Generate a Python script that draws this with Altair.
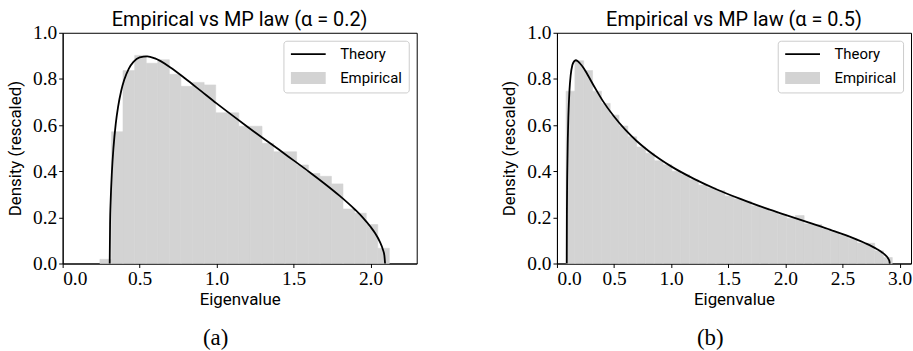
import altair as alt
import pandas as pd

# ---------------- data ----------------
LEFT_EDGES = [0.242, 0.317, 0.392, 0.468, 0.543, 0.618, 0.693, 0.768, 0.844, 0.919,
              0.994, 1.069, 1.144, 1.220, 1.295, 1.370, 1.445, 1.520, 1.596, 1.671,
              1.746, 1.821, 1.896, 1.972, 2.047, 2.122]
LEFT_HEIGHTS = [0.018, 0.571, 0.836, 0.902, 0.868, 0.883, 0.820, 0.768, 0.785, 0.774,
                0.653, 0.653, 0.595, 0.595, 0.521, 0.484, 0.484, 0.427, 0.390, 0.378,
                0.345, 0.236, 0.218, 0.169, 0.066]
LEFT_THEORY_X = [0.3056, 0.308, 0.312, 0.32, 0.33, 0.345, 0.36, 0.38, 0.40, 0.43, 0.46,
                 0.50, 0.55, 0.60, 0.70, 0.80, 0.90, 1.0, 1.1, 1.2, 1.3, 1.4, 1.5, 1.6,
                 1.7, 1.8, 1.9, 1.95, 2.0, 2.03, 2.06, 2.08, 2.09, 2.0944]
LEFT_THEORY_Y = [0.0, 0.170, 0.273, 0.398, 0.501, 0.606, 0.679, 0.748, 0.796, 0.845, 0.874,
                 0.893, 0.898, 0.889, 0.850, 0.800, 0.747, 0.694, 0.643, 0.593, 0.544,
                 0.496, 0.447, 0.398, 0.347, 0.293, 0.233, 0.199, 0.159, 0.131, 0.095,
                 0.061, 0.034, 0.0]

RIGHT_EDGES = [0.080, 0.157, 0.234, 0.312, 0.389, 0.466, 0.543, 0.620, 0.698, 0.775,
               0.852, 0.929, 1.006, 1.084, 1.161, 1.238, 1.315, 1.392, 1.470, 1.547,
               1.624, 1.701, 1.778, 1.856, 1.933, 2.010, 2.087, 2.164, 2.242, 2.319,
               2.396, 2.473, 2.550, 2.628, 2.705, 2.782, 2.859, 2.936]
RIGHT_HEIGHTS = [0.747, 0.879, 0.836, 0.747, 0.694, 0.643, 0.596, 0.549, 0.505, 0.478,
                 0.445, 0.428, 0.400, 0.385, 0.363, 0.340, 0.328, 0.316, 0.292, 0.280,
                 0.270, 0.250, 0.240, 0.225, 0.212, 0.196, 0.208, 0.172, 0.169, 0.150,
                 0.136, 0.123, 0.108, 0.089, 0.088, 0.055, 0.026]
RIGHT_THEORY_X = [0.0858, 0.087, 0.09, 0.095, 0.10, 0.11, 0.12, 0.135, 0.15, 0.165, 0.18,
                  0.20, 0.23, 0.26, 0.30, 0.35, 0.40, 0.50, 0.60, 0.70, 0.80, 0.90, 1.0,
                  1.2, 1.4, 1.6, 1.8, 2.0, 2.2, 2.4, 2.6, 2.7, 2.8, 2.85, 2.88, 2.90,
                  2.91, 2.9142]
RIGHT_THEORY_Y = [0.0, 0.214, 0.386, 0.540, 0.637, 0.754, 0.815, 0.860, 0.876, 0.881,
                  0.878, 0.868, 0.850, 0.826, 0.790, 0.747, 0.706, 0.637, 0.579, 0.530,
                  0.489, 0.453, 0.421, 0.367, 0.321, 0.281, 0.244, 0.211, 0.178, 0.145,
                  0.109, 0.088, 0.063, 0.047, 0.034, 0.022, 0.012, 0.0]

LEGEND_LABELS = ["Theory", "Empirical"]
TITLES = ["Empirical vs MP law (α = 0.2)", "Empirical vs MP law (α = 0.5)"]
CAPTIONS = ["(a)", "(b)"]
X_MAX = [2.30, 3.10]
X_TICKS = [[0.0, 0.5, 1.0, 1.5, 2.0], [0.0, 0.5, 1.0, 1.5, 2.0, 2.5, 3.0]]
Y_TICKS = [0.0, 0.2, 0.4, 0.6, 0.8, 1.0]
X_LABEL = "Eigenvalue"
Y_LABEL = "Density (rescaled)"

# ---------------- styling ----------------
SANS = "Roboto"
SERIF = "Liberation Serif"
BAR_COLOR = "#d3d3d3"
LINE_COLOR = "black"
PATH_LINE = "M-1,-0.14H4.83V0.14H-1Z"
PATH_PATCH = "M-1,-1H4.83V1H-1Z"
W, H = 356, 232

AXIS_STYLE = dict(
    grid=False, domainColor="black", domainWidth=1, tickColor="black", tickWidth=1,
    tickSize=4, labelFont=SERIF, labelFontSize=19.5, labelColor="black",
    titleFont=SANS, titleFontSize=17, titleFontWeight="normal", titleColor="black",
    format=".1f",
)


def panel(edges, heights, tx, ty, title, caption, xmax, xticks):
    hist = pd.DataFrame({"x0": edges[:-1], "x1": edges[1:], "h": heights})
    theory = pd.DataFrame({"x": tx, "y": ty})
    leg = pd.DataFrame({"series": LEGEND_LABELS, "x": [None, None], "y": [None, None]})

    xscale = alt.Scale(domain=[0, xmax], nice=False, zero=False)
    yscale = alt.Scale(domain=[0, 1], nice=False)
    xaxis = alt.Axis(values=xticks, title=X_LABEL, labelPadding=2, titlePadding=4,
                     **AXIS_STYLE)
    yaxis = alt.Axis(values=Y_TICKS, title=Y_LABEL, labelPadding=2, titlePadding=8,
                     **AXIS_STYLE)

    bars = alt.Chart(hist).mark_rect(
        color=BAR_COLOR, stroke=BAR_COLOR, strokeWidth=0.6
    ).encode(
        x=alt.X("x0:Q", scale=xscale, axis=xaxis),
        x2="x1:Q",
        y=alt.Y("h:Q", scale=yscale, axis=yaxis),
        y2=alt.datum(0),
    )
    line = alt.Chart(theory).mark_line(
        color=LINE_COLOR, strokeWidth=1.8, interpolate="monotone"
    ).encode(
        x=alt.X("x:Q", scale=xscale),
        y=alt.Y("y:Q", scale=yscale),
    )
    legend = alt.Legend(
        title=None, orient="top-right", offset=8, padding=6,
        fillColor="white", strokeColor="#cccccc", cornerRadius=3,
        labelFont=SANS, labelFontSize=15, labelColor="black",
        symbolSize=144, symbolStrokeWidth=0, rowPadding=8, labelOffset=36,
    )
    keys = alt.Chart(leg).mark_point(filled=True, opacity=1).encode(
        x=alt.X("x:Q", scale=xscale),
        y=alt.Y("y:Q", scale=yscale),
        color=alt.Color("series:N", scale=alt.Scale(domain=LEGEND_LABELS,
                        range=[LINE_COLOR, BAR_COLOR]), legend=legend),
        shape=alt.Shape("series:N", scale=alt.Scale(domain=LEGEND_LABELS,
                        range=[PATH_LINE, PATH_PATCH]), legend=legend),
    )
    layered = alt.layer(bars, line, keys).properties(
        width=W, height=H,
        title=alt.TitleParams(title, font=SANS, fontSize=20, fontWeight="normal",
                              color="black", anchor="middle", frame="group", offset=-7),
    )
    wrapped = alt.vconcat(layered).properties(
        title=alt.TitleParams(caption, orient="bottom", font=SERIF, fontSize=23,
                              fontWeight="normal", color="black", anchor="middle",
                              offset=19, dx=4),
    ).resolve_scale(color="independent", shape="independent").resolve_legend(
        color="independent", shape="independent")
    return wrapped


left = panel(LEFT_EDGES, LEFT_HEIGHTS, LEFT_THEORY_X, LEFT_THEORY_Y,
             TITLES[0], CAPTIONS[0], X_MAX[0], X_TICKS[0])
right = panel(RIGHT_EDGES, RIGHT_HEIGHTS, RIGHT_THEORY_X, RIGHT_THEORY_Y,
              TITLES[1], CAPTIONS[1], X_MAX[1], X_TICKS[1])

chart = alt.hconcat(left, right, spacing=83).resolve_scale(
    color="independent", shape="independent"
).resolve_legend(color="independent", shape="independent").properties(
    padding={"left": 6, "top": 8, "right": 0, "bottom": 0},
    background="white",
).configure_view(
    stroke="black", strokeWidth=1
)

chart.save("out.html", embed_options={"renderer": "svg", "actions": False})
